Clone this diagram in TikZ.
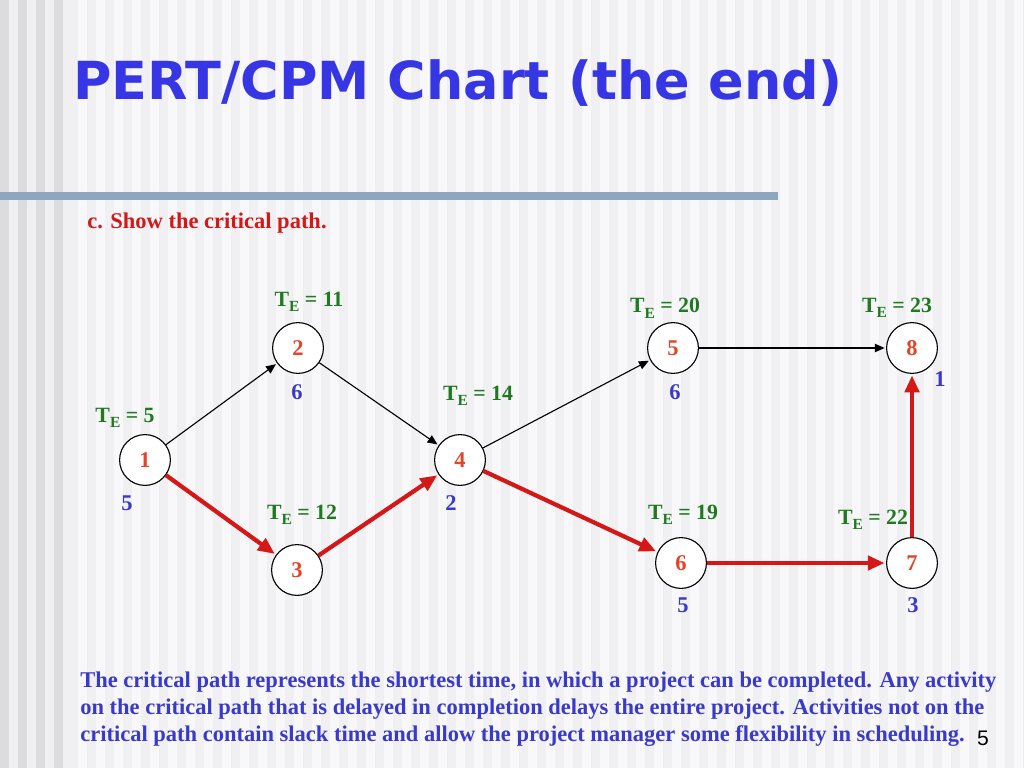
\documentclass[tikz,border=0pt]{standalone}
\usepackage{fontspec}
\setmainfont{Liberation Serif}
\newfontfamily\titlefont{DejaVu Sans}
\newfontfamily\pagefont{Liberation Sans}
\usetikzlibrary{arrows.meta,positioning}
\definecolor{pertblue}{HTML}{3636E4}
\definecolor{pertred}{HTML}{D41818}
\definecolor{pertorange}{HTML}{E2462A}
\definecolor{pertgreen}{HTML}{1F7A1F}
\definecolor{pertnum}{HTML}{3A3AC8}
\definecolor{pertbar}{HTML}{8EA7BF}
\definecolor{pertbg}{HTML}{F0F0F3}
\definecolor{pertstripe}{HTML}{F8F8FA}
\definecolor{pertdark}{HTML}{DCDCDF}
\newcommand{\TE}[1]{T\lower0.55ex\hbox{\fontsize{11}{11}\selectfont E} = #1}

\begin{document}
\begin{tikzpicture}[
  x=0.025cm, y=-0.025cm,
  >=Triangle,
  evt/.style={circle, draw=black, fill=white, line width=0.8pt, minimum size=1.27cm,
    inner sep=0pt, text=pertorange, font=\bfseries\fontsize{16}{16}\selectfont},
  te/.style={text=pertgreen, font=\bfseries\fontsize{15.5}{15.5}\selectfont, inner sep=0pt},
  dur/.style={text=pertnum, font=\bfseries\fontsize{16}{16}\selectfont, inner sep=0pt},
  act/.style={line width=0.8pt, shorten >=1pt, -{Triangle[length=7pt,width=6pt]}},
  crit/.style={line width=3pt, draw=pertred, shorten >=1pt,
    -{Triangle[length=12pt,width=10pt]}},
]
% background stripes
\fill[pertbg] (0,0) rectangle (1024,768);
\foreach \x in {78,96,...,1024}
  \fill[pertstripe] (\x,0) rectangle ++(9,768);
\foreach \x in {0,18,...,60}
  \fill[pertdark] (\x,0) rectangle ++(9,768);
\useasboundingbox (0,0) rectangle (1024,768);

% title and bar
\node[anchor=base west, inner sep=0pt, text=pertblue,
  font=\titlefont\bfseries\fontsize{37.3}{37.3}\selectfont] (title) at (73,100) {PERT/CPM Chart (the end)};
\fill[pertbar] (0,192) rectangle (778,200);
\node[anchor=base west, inner sep=0pt, text=pertred,
  font=\bfseries\fontsize{16}{16}\selectfont] (task) at (87,228) {c. Show the critical path.};

% events
\node[evt] (n1) at (145,460) {1};
\node[evt] (n2) at (298,348) {2};
\node[evt] (n3) at (297,570) {3};
\node[evt] (n4) at (460,460) {4};
\node[evt] (n5) at (673,348) {5};
\node[evt] (n6) at (681,563) {6};
\node[evt] (n7) at (912,563) {7};
\node[evt] (n8) at (912,348) {8};

% earliest times
\node[te] (t1) at (125,418) {\TE{5}};
\node[te] (t2) at (309,302) {\TE{11}};
\node[te] (t3) at (302,515) {\TE{12}};
\node[te] (t4) at (478,396) {\TE{14}};
\node[te] (t5) at (665,308) {\TE{20}};
\node[te] (t6) at (683,515) {\TE{19}};
\node[te] (t7) at (873,520) {\TE{22}};
\node[te] (t8) at (897,308) {\TE{23}};

% durations
\node[dur] (d1) at (127,503) {5};
\node[dur] (d2) at (297,392) {6};
\node[dur] (d4) at (451,503) {2};
\node[dur] (d5) at (675,392) {6};
\node[dur] (d8) at (940,379) {1};
\node[dur] (d6) at (683,605) {5};
\node[dur] (d7) at (913,605) {3};

% activities
\draw[act] (n1) -- (n2);
\draw[act] (n2) -- (n4);
\draw[act] (n4) -- (n5);
\draw[act] (n5) -- (n8);
\draw[crit] (n1) -- (n3);
\draw[crit] (n3) -- (n4);
\draw[crit] (n4) -- (n6);
\draw[crit] (n6) -- (n7);
\draw[crit] (n7) -- (n8);

% note
\node[anchor=north west, inner sep=0pt, align=left, text=pertnum,
  font=\bfseries\fontsize{16}{19.2}\selectfont] (note) at (80,672)
  {The critical path represents the shortest time, in which a project can be completed. Any activity\\
   on the critical path that is delayed in completion delays the entire project. Activities not on the\\
   critical path contain slack time and allow the project manager some flexibility in scheduling.};
\node[font=\pagefont\fontsize{15}{15}\selectfont, inner sep=0pt] (page) at (983,738) {5};
\end{tikzpicture}
\end{document}
